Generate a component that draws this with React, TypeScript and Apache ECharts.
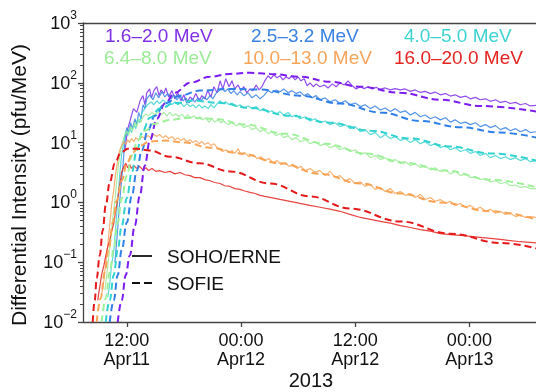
import React, { useEffect, useRef } from 'react';
import * as echarts from 'echarts';

const FONT = '"Liberation Sans", Arial, Helvetica, sans-serif';

const bandLabels = ['1.6–2.0 MeV', '2.5–3.2 MeV', '4.0–5.0 MeV', '6.4–8.0 MeV', '10.0–13.0 MeV', '16.0–20.0 MeV'];
const bandColors = ['#7f2fe6', '#3a82e4', '#3ed3d0', '#9beb97', '#f6a45a', '#e32420'];
const dashColors = ['#7c1cf0', '#2f7fe8', '#30d2d0', '#9ff09a', '#f8a456', '#e5181a'];

const xTickHours = [12, 24, 36, 48];
const xTickLabels = ['12:00\nApr11', '00:00\nApr12', '12:00\nApr12', '00:00\nApr13'];
const yTickValues = [0.01, 0.1, 1, 10, 100, 1000];
const yMinorTicks = [
  0.02, 0.03, 0.04, 0.05, 0.06, 0.07, 0.08, 0.09,
  0.2, 0.3, 0.4, 0.5, 0.6, 0.7, 0.8, 0.9,
  2, 3, 4, 5, 6, 7, 8, 9,
  20, 30, 40, 50, 60, 70, 80, 90,
  200, 300, 400, 500, 600, 700, 800, 900,
];

// SOFIE model (dashed), [hours since 2013-04-11 00:00, pfu/MeV]
const sofie1 = [[11.05,0.01],[11.47,0.023],[11.89,0.061],[12.32,0.13],[12.84,0.41],[13.37,1.3],[13.89,4.1],[14.42,10.8],[15.16,25],[16.0,45],[17.05,68],[18.63,100],[20.74,126],[22.84,141],[24.95,147],[27.05,141],[30.21,126],[33.37,104],[36.53,86],[40.74,68],[44.95,52],[49.16,41],[55.05,33]];
const sofie2 = [[10.21,0.01],[10.63,0.023],[11.05,0.061],[11.47,0.16],[12.0,0.46],[12.53,1.3],[13.05,3.4],[13.58,7.4],[14.21,16],[14.95,28],[16.0,45],[17.58,61],[19.68,74],[22.84,79],[26.0,77],[30.21,61],[34.42,45],[38.63,32],[42.84,23],[47.05,18],[51.26,14.7],[55.05,12.1]];
const sofie3 = [[9.79,0.01],[10.21,0.023],[10.63,0.061],[11.05,0.16],[11.47,0.41],[12.0,1.17],[12.53,3.2],[13.05,7.4],[13.68,15.8],[14.42,26],[15.47,37],[17.05,46],[19.16,50],[21.79,46],[24.95,38],[29.16,28],[33.37,21.5],[37.58,15.8],[41.79,11.7],[46.0,8.6],[50.21,6.6],[55.05,5.0]];
const sofie4 = [[9.37,0.01],[9.79,0.025],[10.21,0.068],[10.63,0.17],[11.05,0.46],[11.47,1.17],[12.0,2.8],[12.53,6.1],[13.16,10.8],[13.89,15.8],[14.95,20.7],[16.53,24],[18.63,26],[21.26,25],[24.42,20],[28.63,14.1],[32.84,9.6],[37.05,6.6],[41.26,4.6],[45.47,3.4],[50.21,2.4],[55.05,1.78]];
const sofie5 = [[8.84,0.01],[9.26,0.025],[9.68,0.068],[10.11,0.17],[10.53,0.46],[10.95,1.08],[11.47,2.3],[12.0,4.5],[12.63,6.8],[13.37,8.9],[14.42,10.4],[16.0,10.8],[18.1,10],[20.74,8.2],[23.89,6.6],[28.1,4.5],[32.32,3.0],[36.53,2.07],[40.74,1.41],[44.95,1.0],[50.21,0.71],[55.05,0.52]];
const sofie6 = [[8.42,0.01],[8.63,0.023],[8.84,0.054],[9.16,0.13],[9.47,0.34],[9.79,0.89],[10.21,2.15],[10.74,4.5],[11.37,6.8],[12.1,7.9],[12.95,7.9],[14.42,7.4],[16.53,5.8],[19.68,4.5],[22.84,3.3],[27.05,2.07],[31.26,1.26],[35.47,0.79],[40.74,0.48],[46.0,0.30],[51.26,0.21],[55.05,0.17]];

// SOHO/ERNE observations (solid)
const erne1 = [[11.8,7.4],[12.1,17],[12.4,25],[12.7,37],[13.05,32],[13.4,50],[13.7,61],[13.9,43],[14.1,68],[14.4,79],[14.6,56],[14.85,74],[15.15,86],[15.4,61],[15.6,76],[15.9,66],[16.1,82],[16.4,58],[16.75,74],[17.05,54],[17.35,68],[17.7,50],[18.0,63],[18.3,46],[18.65,58],[18.95,52],[19.25,66],[19.6,50],[19.9,61],[20.2,54],[20.5,74],[20.85,58],[21.15,86],[21.5,68],[21.8,108],[22.1,79],[22.4,117],[22.75,86],[23.05,108],[23.35,79],[23.7,92],[24.0,74],[24.3,86],[24.6,68],[24.95,79],[25.25,74],[25.6,92],[25.9,76],[26.2,86],[26.5,108],[26.85,131],[27.15,117],[27.45,136],[27.8,121],[28.1,131],[28.4,112],[28.75,126],[29.05,117],[29.35,131],[29.7,112],[30.0,126],[30.3,108],[30.65,117],[30.95,89],[31.25,100],[31.6,86],[31.9,96],[32.3,86],[32.75,92],[33.15,82],[33.6,96],[34.0,86],[34.4,100],[34.85,92],[35.25,108],[35.7,89],[36.1,79],[36.55,86],[36.95,80],[37.35,86],[37.8,79],[38.2,84],[38.6,78],[39.15,82],[39.7,76],[40.2,80],[40.75,76],[41.25,79],[41.8,72],[42.3,76],[42.85,69],[43.35,72],[43.9,66],[44.4,70],[44.95,63],[45.5,66],[46.0,60],[46.5,63],[47.05,57],[47.6,60],[48.1,54],[48.65,57],[49.15,52],[49.7,54],[50.2,49],[50.75,52],[51.25,47],[51.8,49],[52.3,45],[52.85,47],[53.35,43],[53.9,45],[54.4,41],[55.0,42]];
const erne2 = [[10.75,0.1],[10.95,0.23],[11.15,0.61],[11.35,1.58],[11.6,4.1],[11.8,10.8],[12.0,17.8],[12.2,14.7],[12.4,21.5],[12.6,17],[12.85,25],[13.05,20],[13.25,32],[13.5,25],[13.7,43],[13.9,37],[14.1,54],[14.4,63],[14.75,52],[15.05,68],[15.35,56],[15.7,71],[16.0,58],[16.3,66],[16.65,54],[16.95,63],[17.25,52],[17.6,61],[17.9,50],[18.2,56],[18.55,46],[18.85,54],[19.15,48],[19.5,56],[19.8,50],[20.1,58],[20.4,52],[20.75,61],[21.05,54],[21.35,66],[21.7,74],[22.0,82],[22.3,71],[22.6,79],[22.95,66],[23.25,74],[23.6,63],[23.9,71],[24.3,61],[24.75,68],[25.15,56],[25.6,63],[26.0,54],[26.4,61],[26.85,74],[27.25,68],[27.7,76],[28.1,71],[28.5,79],[28.95,68],[29.35,74],[29.8,66],[30.2,71],[30.65,61],[31.05,66],[31.45,56],[31.9,61],[32.3,52],[32.85,56],[33.35,48],[33.9,52],[34.4,45],[34.95,50],[35.45,43],[36.0,46],[36.55,40],[37.05,43],[37.6,37],[38.1,41],[38.65,35],[39.15,38],[39.7,33],[40.2,37],[40.75,32],[41.25,34],[41.8,29],[42.3,32],[42.85,27],[43.35,29],[43.9,25],[44.4,27],[44.95,24],[45.5,26],[46.0,22],[46.5,24],[47.05,21],[47.6,22],[48.1,20],[48.65,21.5],[49.15,18.5],[49.7,20],[50.2,17.8],[50.75,19.2],[51.25,16.5],[51.8,17.8],[52.3,15.8],[52.85,17.1],[53.35,15.2],[53.9,16.5],[54.4,14.7],[55.0,15.2]];
const erne3 = [[10.0,0.026],[10.2,0.042],[10.4,0.089],[10.65,0.16],[10.85,0.41],[11.05,1.08],[11.25,2.8],[11.45,6.1],[11.7,10.8],[11.9,15.8],[12.1,13.1],[12.3,17.8],[12.5,14.7],[12.75,20],[12.95,17.1],[13.15,25],[13.35,21.5],[13.6,32],[13.9,37],[14.2,43],[14.55,48],[14.85,43],[15.15,50],[15.45,45],[15.8,52],[16.1,46],[16.4,50],[16.75,43],[17.05,48],[17.35,43],[17.7,46],[18.0,40],[18.3,45],[18.65,40],[18.95,43],[19.25,38],[19.6,43],[19.9,38],[20.2,41],[20.55,37],[20.85,43],[21.15,38],[21.5,45],[21.8,50],[22.1,45],[22.4,48],[22.75,43],[23.05,46],[23.5,40],[23.9,43],[24.3,38],[24.75,41],[25.15,37],[25.6,40],[26.0,34],[26.4,37],[26.85,32],[27.25,34],[27.7,30],[28.1,33],[28.5,29],[28.95,32],[29.35,27],[29.8,29],[30.2,25],[30.75,27],[31.25,23],[31.8,25],[32.3,21.5],[32.85,23],[33.35,20],[33.9,21.5],[34.4,18.5],[34.95,20],[35.45,17.1],[36.0,18.5],[36.55,15.2],[37.05,16.5],[37.6,13.6],[38.1,14.7],[38.65,12.1],[39.15,13.6],[39.7,11.7],[40.2,12.6],[40.75,10.8],[41.25,11.7],[41.8,10],[42.3,11.2],[42.85,9.6],[43.35,10.4],[43.9,8.9],[44.4,9.6],[44.95,8.25],[45.5,8.9],[46.0,7.6],[46.5,8.25],[47.05,7.1],[47.6,7.6],[48.1,6.6],[48.65,7.1],[49.15,6.1],[49.7,6.6],[50.2,5.6],[50.75,6.1],[51.25,5.4],[51.8,5.8],[52.3,5.2],[52.85,5.6],[53.35,5.0],[53.9,5.4],[54.4,4.8],[55.0,5.0]];
const erne4 = [[9.7,0.034],[9.9,0.061],[10.1,0.12],[10.3,0.23],[10.5,0.5],[10.75,1.08],[10.95,2.3],[11.15,4.6],[11.35,7.4],[11.6,10.8],[11.8,13.6],[12.0,15.8],[12.2,13.6],[12.4,18.5],[12.6,15.8],[12.85,21.5],[13.05,18.5],[13.25,25],[13.5,22],[13.7,27],[14.0,30],[14.3,28],[14.65,32],[14.95,29],[15.25,33],[15.6,29],[15.9,32],[16.2,28],[16.55,32],[16.85,28],[17.15,30],[17.5,27],[17.8,30],[18.1,26],[18.4,29],[18.75,26],[19.05,28],[19.35,25],[19.7,27],[20.0,24],[20.3,26],[20.65,22],[20.95,25],[21.25,22],[21.6,24],[21.9,21.5],[22.2,23],[22.65,20],[23.05,21.5],[23.5,19.2],[23.9,20.7],[24.3,17.8],[24.75,19.2],[25.15,16.5],[25.6,17.8],[26.0,15.2],[26.4,16.5],[26.85,14.1],[27.25,15.2],[27.7,13.1],[28.1,14.1],[28.5,12.1],[28.95,13.1],[29.35,11.2],[29.8,12.1],[30.2,10.4],[30.75,11.2],[31.25,9.6],[31.8,10.4],[32.3,8.9],[32.85,9.6],[33.35,8.25],[33.9,8.9],[34.4,7.6],[34.95,8.25],[35.45,7.1],[36.0,7.6],[36.55,6.3],[37.05,6.8],[37.6,5.6],[38.1,6.1],[38.65,5.2],[39.15,5.6],[39.7,4.8],[40.2,5.2],[40.75,4.5],[41.25,4.8],[41.8,4.1],[42.3,4.5],[42.85,3.8],[43.35,4.1],[43.9,3.5],[44.4,3.8],[44.95,3.3],[45.5,3.5],[46.0,3.0],[46.5,3.3],[47.05,2.8],[47.6,3.0],[48.1,2.6],[48.65,2.7],[49.15,2.4],[49.7,2.5],[50.2,2.2],[50.75,2.3],[51.25,2.07],[51.8,2.15],[52.3,1.9],[52.85,1.95],[53.35,1.78],[53.9,1.85],[54.4,1.7],[55.0,1.7]];
const erne5 = [[9.35,0.028],[9.6,0.05],[9.8,0.1],[10.0,0.19],[10.2,0.41],[10.4,0.89],[10.65,1.7],[10.85,3.2],[11.05,5.0],[11.25,7.4],[11.45,8.9],[11.7,10.4],[11.9,9.3],[12.1,11.2],[12.3,10],[12.5,11.7],[12.75,10.4],[12.95,12.1],[13.25,11.2],[13.6,12.6],[13.9,11.7],[14.2,13.1],[14.55,12.1],[14.85,13.6],[15.15,12.6],[15.45,13.6],[15.8,12.1],[16.1,13.1],[16.4,11.7],[16.75,12.6],[17.05,11.2],[17.35,12.1],[17.7,10.8],[18.0,11.7],[18.3,10.4],[18.65,11.2],[18.95,10],[19.25,10.8],[19.6,9.6],[19.9,10.4],[20.2,9.3],[20.55,10],[20.85,8.9],[21.15,9.6],[21.5,8.25],[21.8,7.6],[22.1,7.1],[22.4,7.6],[22.75,6.8],[23.05,7.4],[23.35,6.6],[23.7,7.9],[24.0,6.3],[24.4,6.8],[24.85,5.8],[25.25,6.3],[25.7,5.4],[26.1,5.8],[26.55,5.0],[26.95,5.4],[27.35,4.6],[27.8,5.0],[28.2,4.3],[28.65,4.6],[29.05,4.0],[29.5,4.3],[29.9,3.7],[30.3,4.0],[30.75,3.4],[31.25,3.7],[31.8,3.2],[32.3,3.4],[32.85,2.8],[33.35,3.3],[33.9,2.6],[34.4,2.8],[34.95,2.3],[35.45,2.5],[36.0,2.07],[36.55,2.2],[37.05,1.85],[37.6,2.0],[38.1,1.65],[38.65,1.78],[39.15,1.52],[39.7,1.7],[40.2,1.41],[40.75,1.52],[41.25,1.31],[41.8,1.41],[42.3,1.21],[42.85,1.36],[43.35,1.12],[43.9,1.21],[44.4,1.04],[44.95,1.12],[45.5,0.96],[46.0,1.04],[46.5,0.89],[47.05,0.96],[47.6,0.83],[48.1,0.89],[48.65,0.77],[49.15,0.83],[49.7,0.71],[50.2,0.77],[50.75,0.66],[51.25,0.71],[51.8,0.63],[52.3,0.66],[52.85,0.58],[53.35,0.61],[53.9,0.56],[54.4,0.58],[55.0,0.56]];
const erne6 = [[8.95,0.023],[9.15,0.038],[9.35,0.061],[9.6,0.089],[9.8,0.13],[10.0,0.18],[10.2,0.23],[10.4,0.32],[10.65,0.46],[10.85,0.74],[11.05,1.17],[11.25,1.9],[11.45,3.16],[11.7,4.0],[11.9,4.5],[12.1,3.8],[12.3,4.3],[12.5,3.7],[12.75,4.1],[13.05,3.7],[13.35,4.0],[13.7,3.5],[14.0,3.8],[14.3,3.4],[14.65,3.7],[15.05,3.3],[15.45,3.4],[16.0,3.16],[16.55,3.3],[17.05,3.0],[17.6,3.16],[18.1,2.9],[18.65,2.8],[19.15,2.6],[19.7,2.6],[20.2,2.4],[20.75,2.3],[21.25,2.15],[21.8,2.07],[22.3,1.9],[22.85,1.85],[23.35,1.7],[23.9,1.65],[24.4,1.55],[24.95,1.47],[25.5,1.41],[26.0,1.31],[26.5,1.26],[27.05,1.21],[28.1,1.12],[29.15,1.04],[30.2,0.96],[31.25,0.89],[32.3,0.83],[33.35,0.77],[34.4,0.71],[35.45,0.63],[36.55,0.56],[37.6,0.52],[38.65,0.48],[39.7,0.45],[40.75,0.41],[41.8,0.38],[42.85,0.35],[43.9,0.33],[44.95,0.30],[46.0,0.29],[47.05,0.28],[48.1,0.27],[49.15,0.26],[50.2,0.25],[51.25,0.24],[52.3,0.23],[53.35,0.22],[55.0,0.21]];

const erneData = [erne1, erne2, erne3, erne4, erne5, erne6];
const sofieData = [sofie1, sofie2, sofie3, sofie4, sofie5, sofie6];

const legendPos = [[105, 35], [251, 35], [404, 35], [104, 57], [243, 57], [394, 57]];

export default function App() {
  const ref = useRef<HTMLDivElement>(null);
  useEffect(() => {
    const chart = echarts.init(ref.current!, null, { renderer: 'svg' });
    const axisColor = '#444';
    const solidSeries = erneData.map((d, i) => ({
      name: 'SOHO/ERNE ' + bandLabels[i],
      type: 'line',
      data: d,
      showSymbol: false,
      symbol: 'none',
      z: 2,
      lineStyle: { color: bandColors[i], width: 1.2, opacity: 0.85 },
    }));
    const dashedSeries = sofieData.map((d, i) => ({
      name: 'SOFIE ' + bandLabels[i],
      type: 'line',
      data: d,
      showSymbol: false,
      symbol: 'none',
      smooth: 0.4,
      smoothMonotone: 'x',
      z: 3,
      lineStyle: { color: dashColors[i], width: 2, type: [7, 4] },
    }));
    const legendTexts = bandLabels.map((t, i) => ({
      type: 'text',
      x: legendPos[i][0],
      y: legendPos[i][1],
      style: {
        text: t, fill: bandColors[i], fontSize: 19, fontFamily: FONT,
        textAlign: 'left', textVerticalAlign: 'middle', align: 'left', verticalAlign: 'middle',
      },
    }));
    chart.setOption({
      animation: false,
      grid: { left: 83, top: 23, right: 0, bottom: 70 },
      xAxis: [
        {
          type: 'value', min: 7.4, max: 55, position: 'bottom',
          axisLine: { show: true, onZero: false, lineStyle: { color: axisColor, width: 1.3 } },
          axisTick: { show: true, customValues: xTickHours, length: 5, lineStyle: { color: axisColor, width: 1.3 } },
          axisLabel: {
            customValues: xTickHours,
            formatter: (v: number) => {
              const k = xTickHours.indexOf(Math.round(v));
              return k >= 0 ? xTickLabels[k] : '';
            },
            fontSize: 18, lineHeight: 19, color: '#111', fontFamily: FONT, margin: 8,
          },
          splitLine: { show: false },
        },
        {
          type: 'value', min: 7.4, max: 55, position: 'top',
          axisLine: { show: true, onZero: false, lineStyle: { color: axisColor, width: 1.3 } },
          axisTick: { show: false }, axisLabel: { show: false }, splitLine: { show: false },
        },
      ],
      yAxis: [
        {
          type: 'log', logBase: 10, min: 0.01, max: 1000, position: 'left',
          axisLine: { show: true, lineStyle: { color: axisColor, width: 1.3 } },
          axisTick: { show: true, customValues: yTickValues, length: 5, lineStyle: { color: axisColor, width: 1.3 } },
          axisLabel: {
            customValues: yTickValues,
            formatter: (v: number) => {
              const e = Math.round(Math.log10(v));
              const s = e < 0 ? '\u2212' + String(-e) : String(e);
              return '10{sup|' + s + '}';
            },
            fontSize: 18, lineHeight: 28, color: '#111', fontFamily: FONT, margin: 6,
            rich: { sup: { fontSize: 12, lineHeight: 12, verticalAlign: 'top', color: '#111', fontFamily: FONT } },
          },
          splitLine: { show: false },
          minorTick: { show: false },
        },
        {
          type: 'log', logBase: 10, min: 0.01, max: 1000, position: 'left',
          axisLine: { show: false },
          axisTick: { show: true, customValues: yMinorTicks, length: 3, lineStyle: { color: axisColor, width: 1 } },
          axisLabel: { show: false },
          splitLine: { show: false },
        },
      ],
      series: [...solidSeries, ...dashedSeries],
      graphic: [
        {
          type: 'text', x: 18, y: 185, rotation: Math.PI / 2,
          style: {
            text: 'Differential Intensity (pfu/MeV)', fill: '#111', fontSize: 21, fontFamily: FONT,
            textAlign: 'center', textVerticalAlign: 'middle', align: 'center', verticalAlign: 'middle',
          },
        },
        {
          type: 'text', x: 311, y: 380,
          style: {
            text: '2013', fill: '#111', fontSize: 20, fontFamily: FONT,
            textAlign: 'center', textVerticalAlign: 'middle', align: 'center', verticalAlign: 'middle',
          },
        },
        ...legendTexts,
        { type: 'line', shape: { x1: 132, y1: 256, x2: 152, y2: 256 }, style: { stroke: '#111', lineWidth: 1.8 } },
        { type: 'line', shape: { x1: 132, y1: 283, x2: 152, y2: 283 }, style: { stroke: '#111', lineWidth: 1.8, lineDash: [8, 4] } },
        {
          type: 'text', x: 167, y: 256,
          style: { text: 'SOHO/ERNE', fill: '#111', fontSize: 19, fontFamily: FONT, textAlign: 'left', textVerticalAlign: 'middle', align: 'left', verticalAlign: 'middle' },
        },
        {
          type: 'text', x: 167, y: 283,
          style: { text: 'SOFIE', fill: '#111', fontSize: 19, fontFamily: FONT, textAlign: 'left', textVerticalAlign: 'middle', align: 'left', verticalAlign: 'middle' },
        },
      ],
    });
    return () => chart.dispose();
  }, []);
  return <div ref={ref} style={{ position: 'fixed', left: 0, top: 0, width: 536, height: 392 }} />;
}
